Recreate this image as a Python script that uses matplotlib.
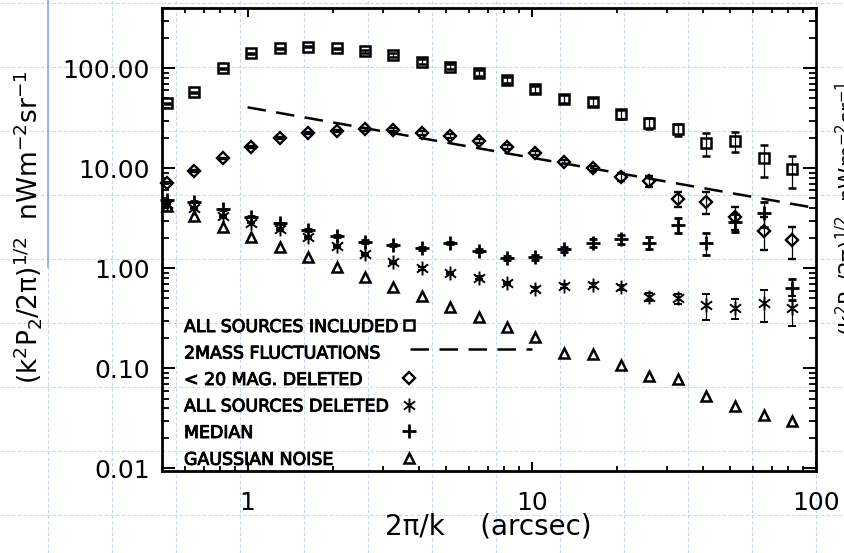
import matplotlib
matplotlib.use("Agg")
import matplotlib.pyplot as plt
import matplotlib.patheffects as pe
from matplotlib.lines import Line2D
from matplotlib.path import Path
from matplotlib.ticker import LogLocator, NullFormatter, FixedLocator, FixedFormatter

# ---------------- data ----------------
x = [0.52, 0.65, 0.82, 1.03, 1.30, 1.63, 2.06, 2.59, 3.26, 4.10, 5.16, 6.52,
     8.21, 10.3, 13.0, 16.4, 20.6, 25.9, 32.6, 41.1, 51.7, 65.4, 82.3]

all_included = [44.7, 57.5, 100, 141, 158, 164, 158, 147, 136, 116, 104, 89,
                76.4, 62, 49.3, 46.4, 34.7, 28.2, 24.5, 18.0, 18.8, 12.6, 9.8]
all_included_err = [0.5, 0.6, 1.0, 1.5, 2, 2, 2.5, 4, 5, 7, 6, 6,
                    5.5, 5, 4.5, 4.4, 3.5, 3.3, 3.3, 4.6, 4.4, 4.4, 3.5]

mag20_deleted = [7.18, 9.4, 12.6, 16.4, 20.0, 22.4, 23.8, 24.5, 24.2, 22.4, 21.0, 18.9,
                 16.4, 14.3, 11.6, 10.0, 8.24, 7.46, 4.93, 4.63, 3.28, 2.38, 1.92]
mag20_err = [0.1, 0.15, 0.2, 0.3, 0.4, 0.5, 0.6, 0.7, 0.8, 1.1, 1.0, 0.9,
             0.8, 0.7, 0.6, 0.5, 0.75, 0.9, 0.8, 1.15, 0.87, 0.86, 0.67]

all_deleted = [4.40, 3.98, 3.33, 2.86, 2.45, 2.04, 1.67, 1.39, 1.16, 1.0, 0.89, 0.81,
               0.71, 0.62, 0.665, 0.68, 0.645, 0.52, 0.50, 0.43, 0.40, 0.45, 0.40]
all_deleted_err = [0.05, 0.05, 0.05, 0.04, 0.04, 0.03, 0.03, 0.03, 0.03, 0.03, 0.02, 0.02,
                   0.02, 0.03, 0.03, 0.03, 0.04, 0.05, 0.06, 0.125, 0.09, 0.16, 0.135]

median = [4.82, 4.63, 3.89, 3.28, 2.82, 2.42, 2.10, 1.85, 1.71, 1.58, 1.80, 1.50,
          1.26, 1.29, 1.55, 1.80, 1.95, 1.80, 2.71, 1.80, 2.92, 3.60, 0.63]
median_err = [0.05, 0.05, 0.05, 0.05, 0.05, 0.05, 0.05, 0.05, 0.05, 0.05, 0.05, 0.05,
              0.06, 0.07, 0.1, 0.15, 0.2, 0.25, 0.46, 0.45, 0.6, 1.0, 0.15]

gaussian = [4.2, 3.33, 2.61, 2.04, 1.64, 1.31, 1.04, 0.82, 0.645, 0.53, 0.41, 0.33,
            0.257, 0.204, 0.143, 0.138, 0.108, 0.084, 0.079, 0.053, 0.042, 0.034, 0.030]

twomass_x = [1.0, 100.0]
twomass_y = [40.7, 4.0]

legend_labels = ["ALL SOURCES INCLUDED", "2MASS FLUCTUATIONS", "< 20 MAG. DELETED",
                 "ALL SOURCES DELETED", "MEDIAN", "GAUSSIAN NOISE"]

x_ticks = [1, 10, 100]
x_ticklabels = ["1", "10", "100"]
y_ticks = [0.01, 0.1, 1, 10, 100]
y_ticklabels = ["0.01", "0.10", "1.00", "10.00", "100.00"]

ylabel = r"$(k^2P_2/2\pi)^{1/2}$  nWm$^{-2}$sr$^{-1}$"
xlabel = "2\u03c0/k    (arcsec)"

# ---------------- layout ----------------
W, H, DPI = 844, 553, 100
plt.rcParams["font.family"] = ["DejaVu Sans"]
plt.rcParams["mathtext.fontset"] = "dejavusans"
plt.rcParams["mathtext.default"] = "regular"


def fx(px):
    return px / W


def fy(py):
    return 1 - py / H


fig = plt.figure(figsize=(W / DPI, H / DPI), dpi=DPI, facecolor="white")

# slide background: pale dotted grid and a blue rule
grid_col = "#c6d5f3"
for k in range(13):
    gx = 47.7 + 64 * k
    fig.add_artist(Line2D([fx(gx), fx(gx)], [0, 1], color=grid_col, lw=0.8,
                          linestyle=(0, (3, 2.2)), zorder=-10))
for k in range(9):
    gy = 2.7 + 64 * k
    fig.add_artist(Line2D([0, 1], [fy(gy), fy(gy)], color=grid_col, lw=0.8,
                          linestyle=(0, (3, 2.2)), zorder=-10))
fig.add_artist(Line2D([fx(47.7), fx(47.7)], [fy(0), fy(267)], color="#86a9ef",
                      lw=1.2, zorder=-9))

ax = fig.add_axes([fx(162), fy(470.7), (816 - 162) / W, (470.7 - 8) / H])
ax.set_facecolor("none")
ax.set_xscale("log")
ax.set_yscale("log")
ax.set_xlim(0.5, 100)
ax.set_ylim(0.0095, 400)

# custom IDL-like asterisk (vertical stroke + X)
ast = Path([(0, -1), (0, 1), (-0.8, -0.6), (0.8, 0.6), (-0.8, 0.6), (0.8, -0.6)],
           [Path.MOVETO, Path.LINETO, Path.MOVETO, Path.LINETO, Path.MOVETO, Path.LINETO])

sq_style = dict(marker="s", ms=7.0, mew=1.8, mfc="none")
di_style = dict(marker="D", ms=5.9, mew=1.7, mfc="none")
as_style = dict(marker=ast, ms=10.0, mew=1.4, mfc="none")
pl_style = dict(marker="+", ms=9.5, mew=2.0)
tr_style = dict(marker="^", ms=7.4, mew=1.8, mfc="none")

eb_kw = dict(ecolor="k", elinewidth=0.9, capsize=2.9, capthick=0.9, linestyle="none")

series = [
    (all_included, all_included_err, sq_style),
    (mag20_deleted, mag20_err, di_style),
    (all_deleted, all_deleted_err, as_style),
    (median, median_err, pl_style),
]
for yv, ye, mk in series:
    cont = ax.errorbar(x, yv, yerr=ye, color="k", mec="k", **mk, **eb_kw)
    cont[0].set_clip_on(False)

g, = ax.plot(x, gaussian, linestyle="none", mec="k", **tr_style)
g.set_clip_on(False)

ax.plot(twomass_x, twomass_y, color="k", lw=1.8, linestyle=(0, (7.4, 4.2)))

# axes styling (IDL-like box)
for s in ax.spines.values():
    s.set_linewidth(2.0)
ax.xaxis.set_major_locator(FixedLocator(x_ticks))
ax.xaxis.set_major_formatter(FixedFormatter(x_ticklabels))
ax.xaxis.set_minor_locator(LogLocator(base=10, subs=range(2, 10), numticks=20))
ax.xaxis.set_minor_formatter(NullFormatter())
ax.yaxis.set_major_locator(FixedLocator(y_ticks))
ax.yaxis.set_major_formatter(FixedFormatter(y_ticklabels))
ax.yaxis.set_minor_locator(LogLocator(base=10, subs=range(2, 10), numticks=20))
ax.yaxis.set_minor_formatter(NullFormatter())

ax.tick_params(which="both", direction="in", top=True, right=True, colors="k")
ax.tick_params(axis="y", which="major", length=9.4, width=1.4, labelsize=18, pad=8.6)
ax.tick_params(axis="y", which="minor", length=4.7, width=1.3)
ax.tick_params(axis="x", which="major", length=6.2, width=1.4, labelsize=18, pad=14.5)
ax.tick_params(axis="x", which="minor", length=3.4, width=1.3)

ax.set_xlabel(xlabel, fontsize=20, va="center")
ax.xaxis.set_label_coords((488 - 162) / 654, (470.7 - 527) / 462.7)
ax.set_ylabel(ylabel, fontsize=19, va="center")
ax.yaxis.set_label_coords((28 - 162) / 654, (470.7 - 227) / 462.7)

# partially visible label of the neighbouring slide panel (cut by the edge, as in the reference)
fig.text(fx(833), fy(208), ylabel, rotation=90, ha="left", va="center", fontsize=15.5)

# hand-drawn legend in the IDL style: label, then symbol
rows = [325, 351.5, 378, 404.5, 431, 457.8]
thick = [pe.withStroke(linewidth=0.7, foreground="k")]
for lab, py in zip(legend_labels, rows):
    fig.text(fx(184), fy(py), lab, ha="left", va="center_baseline", fontsize=12.5,
             path_effects=thick)

sym_x = fx(409)
fig.add_artist(Line2D([sym_x], [fy(rows[0])], mec="k", linestyle="none", **sq_style))
fig.add_artist(Line2D([fx(410), fx(532)], [fy(349), fy(349)], color="k", lw=1.8,
                      linestyle=(0, (7.4, 4.2))))
fig.add_artist(Line2D([sym_x], [fy(rows[2])], mec="k", linestyle="none", **di_style))
fig.add_artist(Line2D([sym_x], [fy(rows[3])], mec="k", linestyle="none", **as_style))
fig.add_artist(Line2D([sym_x], [fy(rows[4])], mec="k", linestyle="none", **pl_style))
fig.add_artist(Line2D([sym_x], [fy(rows[5])], mec="k", linestyle="none", **tr_style))

fig.savefig("out.png", dpi=DPI)
